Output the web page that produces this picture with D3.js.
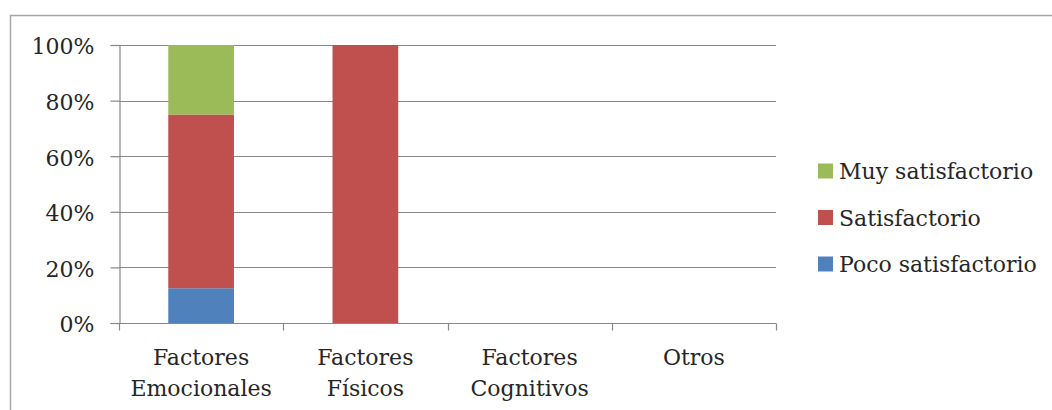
<!DOCTYPE html>
<html><head><meta charset="utf-8">
<script src="https://cdn.jsdelivr.net/npm/d3@7"></script>
<style>
html,body{margin:0;padding:0;background:#fff;}
text{font-family:"DejaVu Serif",serif;fill:#262626;}
</style></head>
<body>
<svg id="c" width="1052" height="410"></svg>
<script>
const categories = [["Factores","Emocionales"],["Factores","Físicos"],["Factores","Cognitivos"],["Otros"]];
const seriesNames = ["Poco satisfactorio","Satisfactorio","Muy satisfactorio"];
const pocoSatisfactorio = [12.5, 0, 0, 0];
const satisfactorio = [62.5, 100, 0, 0];
const muySatisfactorio = [25, 0, 0, 0];
const seriesColors = ["#4f81bd","#c0504d","#9bbb59"];
const yTicks = [0,20,40,60,80,100];

(function(){
const svg = d3.select("#c");
svg.append("rect").attr("x",10.5).attr("y",15.5).attr("width",1060).attr("height",420)
  .attr("fill","none").attr("stroke","#a6a6a6").attr("stroke-width",1.5);

const pL=119, pR=776, pT=45, pB=323;
const x = d3.scaleBand().domain(d3.range(categories.length)).range([pL,pR]).padding(0);
const y = d3.scaleLinear().domain([0,100]).range([pB,pT]);
const grid="#888";

svg.append("g").selectAll("line").data(yTicks.filter(d=>d>0)).join("line")
  .attr("x1",pL).attr("x2",pR).attr("y1",d=>Math.round(y(d))+0.5).attr("y2",d=>Math.round(y(d))+0.5)
  .attr("stroke",grid).attr("stroke-width",1.2);

const rows = categories.map((c,i)=>({i, "Poco satisfactorio":pocoSatisfactorio[i], "Satisfactorio":satisfactorio[i], "Muy satisfactorio":muySatisfactorio[i]}));
const stack = d3.stack().keys(seriesNames)(rows);
const bw = x.bandwidth()*0.4;
svg.append("g").selectAll("g").data(stack).join("g").attr("fill",(d,i)=>seriesColors[i])
  .selectAll("rect").data(d=>d).join("rect")
  .attr("x",d=>x(d.data.i)+x.bandwidth()/2-bw/2).attr("width",bw)
  .attr("y",d=>y(d[1])).attr("height",d=>Math.max(0,y(d[0])-y(d[1])));

const yAxis = svg.append("g").attr("transform",`translate(${pL+0.5},0)`)
  .call(d3.axisLeft(y).tickValues(yTicks).tickFormat(d=>d+"%").tickSize(9).tickPadding(16));
yAxis.select(".domain").attr("stroke",grid).attr("stroke-width",1.2);
yAxis.selectAll(".tick line").attr("stroke",grid).attr("stroke-width",1.2);
yAxis.selectAll("text").attr("font-size",22).attr("font-family","DejaVu Serif").attr("fill","#262626").attr("dy","0.4em");

const xb = svg.append("g").attr("transform",`translate(0,${pB+0.5})`);
xb.append("line").attr("x1",pL).attr("x2",pR).attr("stroke",grid).attr("stroke-width",1.2);
const xt = d3.range(categories.length+1).map(i=> i<categories.length? x(i): pR);
xb.selectAll(".tk").data(xt).join("line").attr("class","tk")
  .attr("x1",d=>Math.round(d)+0.5).attr("x2",d=>Math.round(d)+0.5).attr("y1",0).attr("y2",7)
  .attr("stroke",grid).attr("stroke-width",1.2);
svg.append("g").selectAll("text").data(categories).join("text")
  .attr("text-anchor","middle").attr("font-size",22)
  .attr("x",(d,i)=>x(i)+x.bandwidth()/2).attr("y",365)
  .selectAll("tspan").data(d=>d).join("tspan")
  .attr("x",function(){return this.parentNode.getAttribute("x");})
  .attr("dy",(d,j)=>j===0?0:31).text(d=>d);

const legendOrder = [2,1,0];
const lg = svg.append("g").selectAll("g").data(legendOrder).join("g")
  .attr("transform",(d,k)=>`translate(818,${171+k*46.5})`);
lg.append("rect").attr("x",0).attr("y",-7.5).attr("width",15).attr("height",15).attr("fill",d=>seriesColors[d]);
lg.append("text").attr("x",21).attr("y",8).attr("font-size",22).text(d=>seriesNames[d]);
})();
</script>
</body></html>
